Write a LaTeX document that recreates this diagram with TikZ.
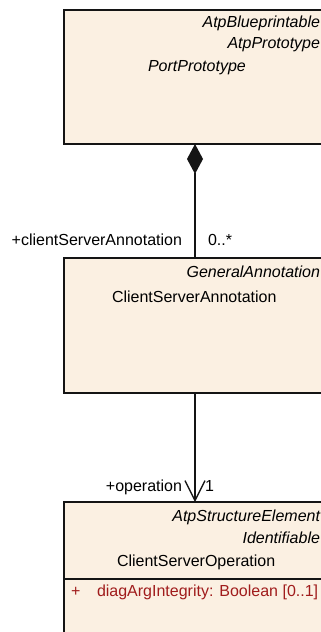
\documentclass[tikz,border=0pt]{standalone}
\usepackage{fontspec}
\setmainfont{Liberation Sans}
\usetikzlibrary{arrows.meta}
\definecolor{boxfill}{RGB}{251,240,226}
\definecolor{attrred}{RGB}{160,28,28}
\definecolor{linecol}{RGB}{20,20,20}
\begin{document}
\begin{tikzpicture}[x=1pt,y=-1pt,
  every node/.style={inner sep=0pt, outer sep=0pt, font=\fontsize{16}{19}\selectfont, text=black},
  classbox/.style={draw=linecol, line width=1.3pt, fill=boxfill, minimum width=262pt, anchor=north west},
  stereo/.style={font=\fontsize{16}{19}\selectfont\itshape, anchor=base east},
  cname/.style={anchor=base west},
  attr/.style={anchor=base west, text=attrred},
  conn/.style={draw=linecol, line width=1.3pt},
  rolelbl/.style={anchor=base east},
  multlbl/.style={anchor=base west}]
\useasboundingbox (0,0) rectangle (321,632);
\clip (0,0) rectangle (321,632);
% boxes
\node[classbox, minimum height=134pt] (port) at (64,10) {};
\node[classbox, minimum height=135pt] (ann) at (64,258) {};
\node[classbox, minimum height=170pt] (op) at (64,502) {};
% box 1 texts
\node[stereo] (s1a) at (320,27) {AtpBlueprintable};
\node[stereo] (s1b) at (320,48) {AtpPrototype};
\node[stereo, anchor=base west] (n1) at (148,71) {PortPrototype};
% box 2 texts
\node[stereo] (s2a) at (320,277) {GeneralAnnotation};
\node[cname] (n2) at (112,302) {ClientServerAnnotation};
% box 3 texts
\node[stereo] (s3a) at (320,521) {AtpStructureElement};
\node[stereo] (s3b) at (320,543) {Identifiable};
\node[cname] (n3) at (117,566) {ClientServerOperation};
\coordinate (sepL) at (64,579);
\coordinate (sepR) at (330,579);
\draw[conn] (sepL) -- (sepR);
\node[attr] (a1p) at (71,596) {+};
\node[attr] (a1) at (97,596) {diagArgIntegrity: Boolean [0..1]};
% connectors
\draw[conn, {Diamond[length=30pt,width=16pt,fill=linecol]}-] (port.south) -- (ann.north);
\draw[conn, -{Straight Barb[length=20pt,width=20pt]}] (ann.south) -- (op.north);
% labels
\node[rolelbl] (r1) at (182,245.5) {+clientServerAnnotation};
\node[multlbl] (m1) at (208,245.5) {0..*};
\node[rolelbl] (r2) at (182,491) {+operation};
\node[multlbl] (m2) at (205,491) {1};
\end{tikzpicture}
\end{document}
